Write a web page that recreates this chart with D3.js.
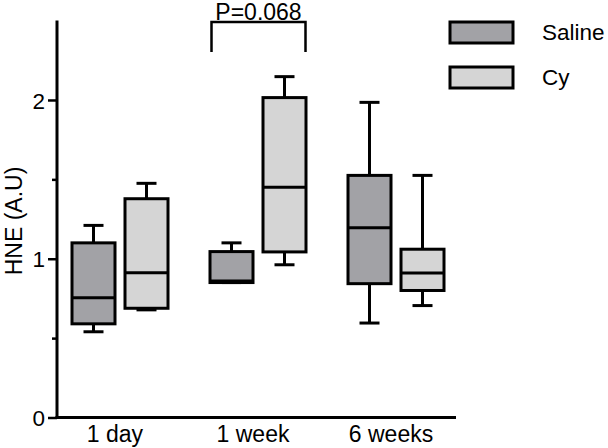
<!DOCTYPE html>
<html><head><meta charset="utf-8">
<script src="https://cdn.jsdelivr.net/npm/d3@7"></script>
<style>body{margin:0;background:#fff;}text{font-family:Arial,"Liberation Sans",sans-serif;fill:#000;}</style>
</head><body><svg id="c" width="608" height="448"></svg>
<script>
const categories = ["1 day", "1 week", "6 weeks"];
const seriesNames = ["Saline", "Cy"];
// [min, q1, median, q3, max]
const salineValues = [
  [0.54, 0.59, 0.755, 1.10, 1.21],
  [0.85, 0.85, 0.86, 1.045, 1.10],
  [0.595, 0.843, 1.195, 1.525, 1.985]
];
const cyValues = [
  [0.678, 0.688, 0.912, 1.378, 1.475],
  [0.962, 1.043, 1.45, 2.015, 2.147],
  [0.705, 0.80, 0.91, 1.06, 1.525]
];
const majorTicks = [0, 1, 2];
const minorTicks = [0.5, 1.5];
const yLabel = "HNE (A.U)";
const pLabel = "P=0.068";

const colors = {Saline: "#a2a2a6", Cy: "#d5d5d5"};
const svg = d3.select("#c");
const y = d3.scaleLinear().domain([0, 2.5]).range([417.5, 20.6]);
const x = d3.scalePoint().domain(categories).range([120, 396]);
const sub = d3.scalePoint().domain(seriesNames).range([-26.5, 26.5]);
const boxW = 43, capW = 20, sw = 3;

// boxes
const data = [];
categories.forEach((c, i) => {
  data.push({cat: c, s: "Saline", v: salineValues[i]});
  data.push({cat: c, s: "Cy", v: cyValues[i]});
});
const g = svg.append("g");
data.forEach(d => {
  const cx = x(d.cat) + sub(d.s);
  const [mn, q1, md, q3, mx] = d.v;
  const gg = g.append("g").attr("stroke", "#000").attr("stroke-width", sw);
  gg.append("line").attr("x1", cx).attr("x2", cx).attr("y1", y(mx)).attr("y2", y(q3));
  gg.append("line").attr("x1", cx).attr("x2", cx).attr("y1", y(q1)).attr("y2", y(mn));
  gg.append("line").attr("x1", cx - capW/2).attr("x2", cx + capW/2).attr("y1", y(mx)).attr("y2", y(mx));
  gg.append("line").attr("x1", cx - capW/2).attr("x2", cx + capW/2).attr("y1", y(mn)).attr("y2", y(mn));
  gg.append("rect").attr("x", cx - boxW/2).attr("width", boxW)
    .attr("y", y(q3)).attr("height", Math.max(0.5, y(q1) - y(q3)))
    .attr("fill", colors[d.s]);
  gg.append("line").attr("x1", cx - boxW/2).attr("x2", cx + boxW/2).attr("y1", y(md)).attr("y2", y(md));
});

// axes
const x0 = 57, x1 = 456;
const yAxis = d3.axisLeft(y).tickValues(majorTicks).tickSize(9).tickPadding(3).tickFormat(d3.format("d"));
const ya = svg.append("g").attr("transform", `translate(${x0},0)`).call(yAxis);
ya.select(".domain").remove();
ya.selectAll(".tick line").attr("stroke", "#000").attr("stroke-width", 2.5);
ya.selectAll(".tick text").attr("font-size", 22.5).attr("font-family", "Arial, Liberation Sans, sans-serif").attr("fill", "#000").attr("dy", "0.36em");
const yMinor = d3.axisLeft(y).tickValues(minorTicks).tickSize(5).tickFormat("");
const ym = svg.append("g").attr("transform", `translate(${x0},0)`).call(yMinor);
ym.select(".domain").remove();
ym.selectAll(".tick line").attr("stroke", "#000").attr("stroke-width", 2.5);
svg.append("line").attr("x1", x0).attr("x2", x0).attr("y1", y(2.5)).attr("y2", y(0) + 1.5).attr("stroke", "#000").attr("stroke-width", 3);
svg.append("line").attr("x1", x0 - 1.5).attr("x2", x1).attr("y1", y(0)).attr("y2", y(0)).attr("stroke", "#000").attr("stroke-width", 3);

// x labels
svg.append("g").selectAll("text").data(categories).join("text")
  .attr("x", d => x(d) - 5).attr("y", 442).attr("text-anchor", "middle").attr("font-size", 23).text(d => d);

// y label
svg.append("text").attr("transform", `translate(22,221) rotate(-90)`).attr("text-anchor", "middle")
  .attr("font-size", 23).text(yLabel);

// significance bracket
const bx1 = x(categories[1]) + sub("Saline") - 20, bx2 = x(categories[1]) + sub("Cy") + 21;
svg.append("path").attr("d", `M${bx1},52V22H${bx2}V52`).attr("fill", "none").attr("stroke", "#000").attr("stroke-width", 2.5);
svg.append("text").attr("x", (bx1 + bx2)/2).attr("y", 20).attr("text-anchor", "middle").attr("font-size", 23).text(pLabel);

// legend
const lg = svg.append("g");
seriesNames.forEach((s, i) => {
  const ly = 22 + i * 45;
  lg.append("rect").attr("x", 450).attr("y", ly).attr("width", 63).attr("height", 21)
    .attr("fill", colors[s]).attr("stroke", "#000").attr("stroke-width", 3);
  lg.append("text").attr("x", 542).attr("y", ly + 18).attr("font-size", 22.5).text(s);
});
</script></body></html>
